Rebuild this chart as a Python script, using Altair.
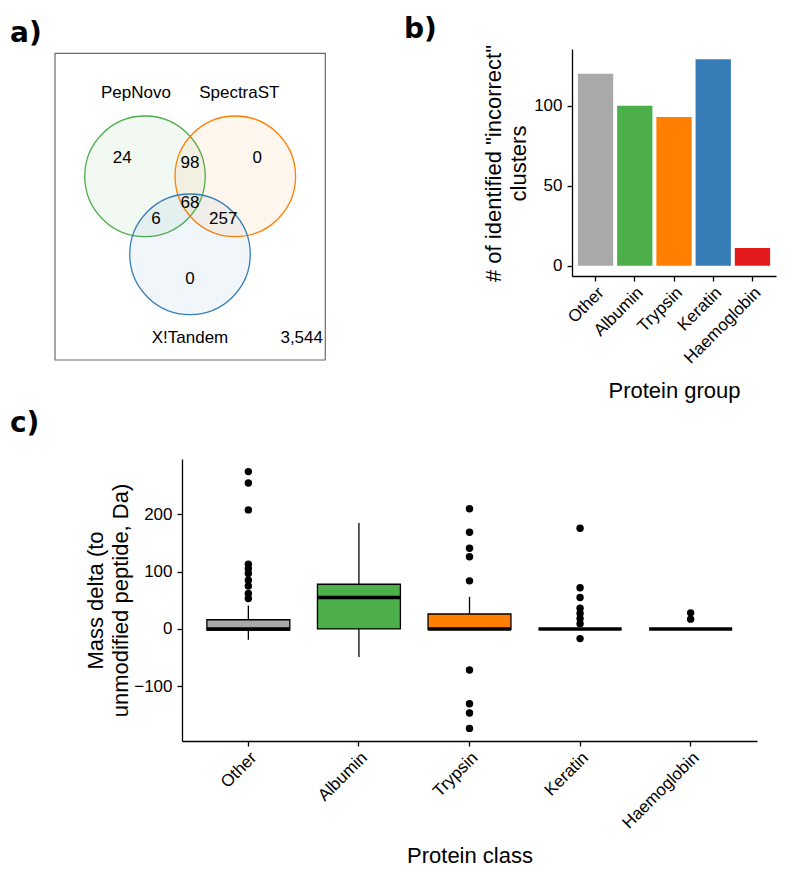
import altair as alt
import pandas as pd

# ---------------- panel a) Venn diagram ----------------
venn_sets = ["PepNovo", "SpectraST", "X!Tandem"]
venn_colors = ["#4DAF4A", "#FF7F00", "#377EB8"]
venn_counts = ["24", "98", "0", "68", "6", "257", "0"]
venn_outside = ["3,544"]

# diagram geometry (drawing units, origin at panel top-left, y downward)
venn_cx = [90.0, 180.3, 135.0]
venn_cy = [127.3, 127.3, 205.3]
venn_label_x = [81.0, 184.3, 135.0]
venn_label_y = [44.3, 44.3, 289.3]
count_x = [67.3, 135.0, 202.3, 135.0, 101.0, 168.3, 135.0]
count_y = [109.3, 113.7, 109.3, 153.7, 170.0, 170.0, 230.3]
outside_x = [246.7]
outside_y = [289.3]
frame_x = [0.0, 270.3]
frame_y = [4.3, 311.0]

# ---------------- panel b) bar chart ----------------
groups = ["Other", "Albumin", "Trypsin", "Keratin", "Haemoglobin"]
group_colors = ["#A9A9A9", "#4DAF4A", "#FF7F00", "#377EB8", "#E41A1C"]
incorrect_clusters = [120, 100, 93, 129, 11]

# ---------------- panel c) box plot ----------------
box_q1 = [-2, 0, -1, 0, 0]
box_median = [0, 55, 0, 0, 0]
box_q3 = [16, 78, 26, 0, 0]
whisker_low = [-19, -49, -1, 0, 0]
whisker_high = [41, 185, 56, 0, 0]
outliers_other = [275, 255, 208, 113, 105, 97, 85, 75, 62, 53]
outliers_albumin = []
outliers_trypsin = [210, 169, 141, 126, 84, -72, -131, -147, -174]
outliers_keratin = [176, 72, 55, 36, 27, 18, 9, -17]
outliers_haemoglobin = [28, 17]

FONT = "Liberation Sans"


def panel_title(letter, dx, offset):
    return alt.TitleParams(text=letter, anchor="start", frame="group", dx=dx,
                           offset=offset, fontSize=28, font="DejaVu Sans",
                           fontWeight="bold", color="black")


# ---------- Venn ----------
xs = alt.Scale(domain=[0, 270], nice=False, zero=False)
ys = alt.Scale(domain=[0, 311], reverse=True, nice=False, zero=False)

circ_df = pd.DataFrame({"set": venn_sets, "cx": venn_cx, "cy": venn_cy})
lab_df = pd.DataFrame({"label": venn_sets, "x": venn_label_x, "y": venn_label_y})
cnt_df = pd.DataFrame({"label": venn_counts, "x": count_x, "y": count_y})
out_df = pd.DataFrame({"label": venn_outside, "x": outside_x, "y": outside_y})
frame_df = pd.DataFrame({"x0": [frame_x[0]], "x1": [frame_x[1]],
                         "y0": [frame_y[0]], "y1": [frame_y[1]]})

frame = alt.Chart(frame_df).mark_rect(filled=False, color="#6a6a6a", strokeWidth=1.2).encode(
    x=alt.X("x0:Q", scale=xs, axis=None), x2="x1:Q",
    y=alt.Y("y0:Q", scale=ys, axis=None), y2="y1:Q")

set_scale = alt.Scale(domain=venn_sets, range=venn_colors)
circles = alt.Chart(circ_df).mark_point(
    shape="circle", filled=True, size=14527, strokeWidth=1.3,
    fillOpacity=0.07, strokeOpacity=1, opacity=1).encode(
    x=alt.X("cx:Q", scale=xs, axis=None),
    y=alt.Y("cy:Q", scale=ys, axis=None),
    fill=alt.Fill("set:N", scale=set_scale, legend=None),
    stroke=alt.Stroke("set:N", scale=set_scale, legend=None))


def venn_text(df):
    return alt.Chart(df).mark_text(font=FONT, fontSize=17, color="black",
                                   align="center", baseline="middle").encode(
        x=alt.X("x:Q", scale=xs, axis=None),
        y=alt.Y("y:Q", scale=ys, axis=None),
        text="label:N")


venn = alt.layer(frame, circles, venn_text(cnt_df), venn_text(lab_df),
                 venn_text(out_df)).properties(
    width=270, height=311, title=panel_title("a)", -45, 1))

# ---------- Bar chart ----------
bar_df = pd.DataFrame({"group": groups, "count": incorrect_clusters})

bar = alt.Chart(bar_df).mark_bar().encode(
    x=alt.X("group:N", sort=groups,
            scale=alt.Scale(domain=groups, paddingInner=0.1, paddingOuter=0.15),
            axis=alt.Axis(title="Protein group", labelAngle=315, labelAlign="right",
                          labelBaseline="top", labelOffset=0, labelPadding=3,
                          labelOverlap=False, titleX=102, titleY=114,
                          titleBaseline="middle", titleAlign="center")),
    y=alt.Y("count:Q", scale=alt.Scale(domain=[-6.45, 135.45], nice=False, zero=False),
            axis=alt.Axis(values=[0, 50, 100], labelPadding=5,
                          title=['# of identified "incorrect"', "clusters"],
                          titleX=-79, titleY=114, titleBaseline="middle",
                          titleAlign="center", titleLineHeight=25)),
    y2=alt.datum(0),
    color=alt.Color("group:N", scale=alt.Scale(domain=groups, range=group_colors),
                    legend=None)
).properties(width=204, height=227, title=panel_title("b)", -168, 1))

top = alt.hconcat(venn, bar, spacing=247, bounds="flush").resolve_scale(
    color="independent", fill="independent", stroke="independent")

# ---------- Box plot ----------
stats_df = pd.DataFrame({"group": groups, "q1": box_q1, "median": box_median,
                         "q3": box_q3, "lo": whisker_low, "hi": whisker_high})
out_rows = []
for g, vals in zip(groups, [outliers_other, outliers_albumin, outliers_trypsin,
                            outliers_keratin, outliers_haemoglobin]):
    for v in vals:
        out_rows.append({"group": g, "value": v})
outl_df = pd.DataFrame(out_rows)

bx_scale = alt.Scale(domain=groups, paddingInner=0.25, paddingOuter=0.225)
by_scale = alt.Scale(domain=[-196, 297], nice=False, zero=False)
bx_axis = alt.Axis(title="Protein class", labelAngle=315, labelAlign="right",
                   labelBaseline="top", labelOffset=0, labelPadding=3,
                   labelOverlap=False, titleX=287.5, titleY=114,
                   titleBaseline="middle", titleAlign="center")
by_axis = alt.Axis(values=[-100, 0, 100, 200], labelPadding=5,
                   title=["Mass delta (to", "unmodified peptide, Da)"],
                   titleX=-87, titleY=141, titleBaseline="middle",
                   titleAlign="center", titleLineHeight=25)


def BX():
    return alt.X("group:N", sort=groups, scale=bx_scale, axis=bx_axis)


def BY(field):
    return alt.Y(field + ":Q", scale=by_scale, axis=by_axis)


whiskers = alt.Chart(stats_df).mark_rule(color="black", strokeWidth=1.3).encode(
    x=BX(), y=BY("lo"), y2="hi:Q")
boxes = alt.Chart(stats_df).mark_bar(stroke="black", strokeWidth=1.3).encode(
    x=BX(), y=BY("q1"), y2="q3:Q",
    fill=alt.Fill("group:N", scale=alt.Scale(domain=groups, range=group_colors),
                  legend=None))
medians = alt.Chart(stats_df).mark_tick(color="black", thickness=3.5, size=83,
                                        opacity=1).encode(x=BX(), y=BY("median"))
points = alt.Chart(outl_df).mark_circle(color="black", size=55, opacity=1).encode(
    x=BX(), y=BY("value"))

box = alt.layer(whiskers, boxes, medians, points).properties(
    width=575, height=282, title=panel_title("c)", -172, 21))

# empty layout spacer that shifts panel c) to the right
spacer = alt.Chart(pd.DataFrame({"s": [0]})).mark_point(opacity=0).encode(
    x=alt.X("s:Q", axis=None), y=alt.Y("s:Q", axis=None)
).properties(width=127, height=282)

bottom = alt.hconcat(spacer, box, spacing=0, bounds="flush").resolve_scale(
    x="independent", y="independent", fill="independent")

chart = alt.vconcat(top, bottom, spacing=9).resolve_scale(
    color="independent", fill="independent", stroke="independent"
).properties(
    padding={"left": 2, "top": 7, "right": 2, "bottom": 2}
).configure_view(stroke=None).configure_axis(
    grid=False, domainColor="black", domainWidth=1.3, tickColor="black",
    tickWidth=1.3, tickSize=5, labelColor="black", labelFontSize=17,
    labelFont=FONT, titleFont=FONT, titleFontSize=22, titleFontWeight="normal",
    titleColor="black")

chart.save("out.html", embed_options={"renderer": "svg", "actions": False})
